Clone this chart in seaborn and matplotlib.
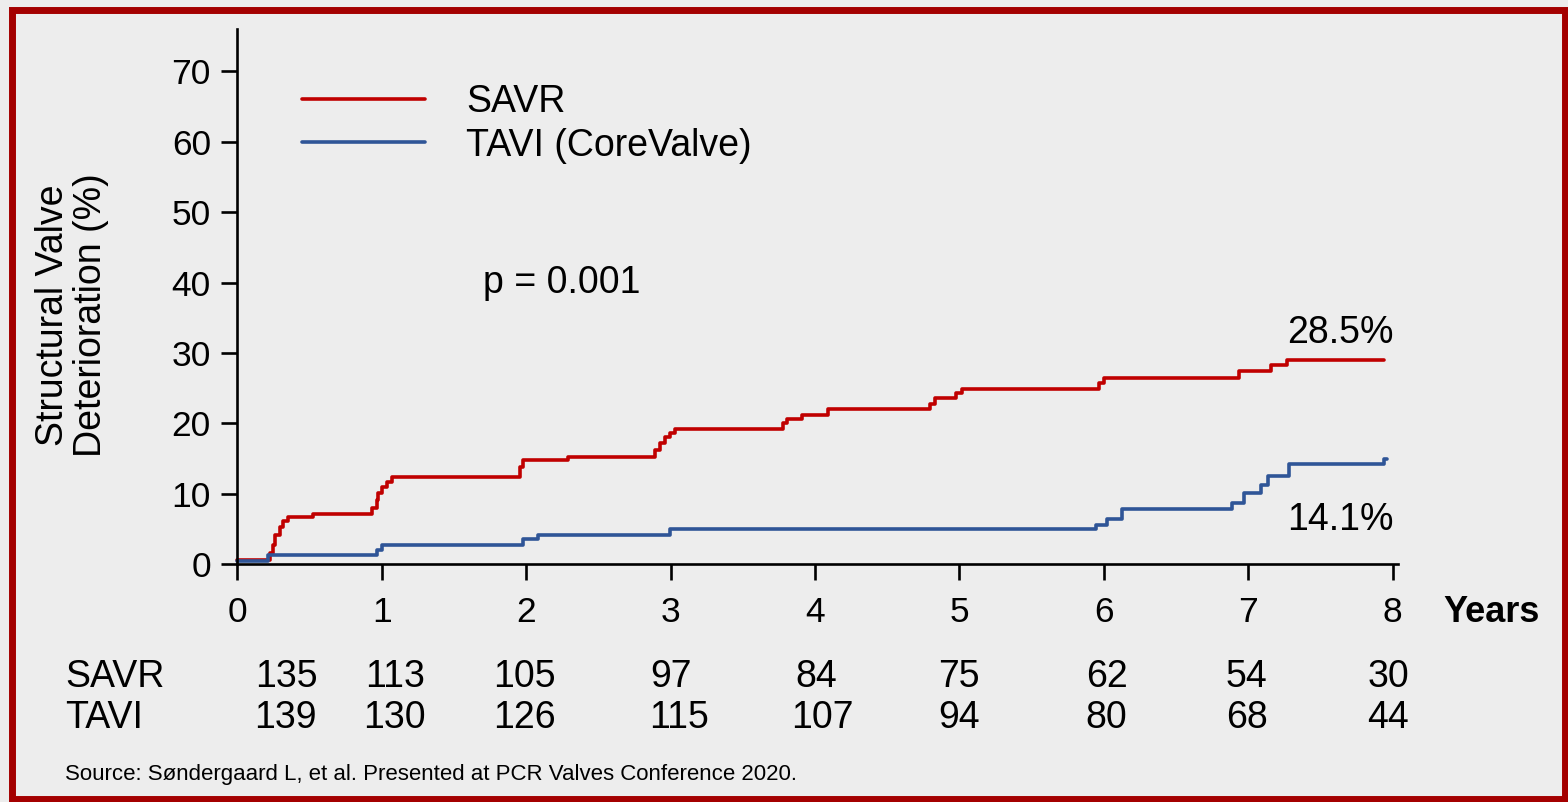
import numpy as np
import pandas as pd
import matplotlib
matplotlib.use("Agg")
import matplotlib.pyplot as plt
import seaborn as sns
from matplotlib.transforms import blended_transform_factory
from matplotlib.patches import Rectangle

# ---------------- data ----------------
savr_t = [0, 0.226, 0.245, 0.261, 0.296, 0.319, 0.353, 0.526, 0.931, 0.965, 0.977,
          1.0, 1.035, 1.069, 1.958, 1.981, 2.292, 2.893, 2.927, 2.962, 2.997, 3.031,
          3.78, 3.81, 3.91, 4.09, 4.80, 4.83, 4.98, 5.02, 5.97, 6.00, 6.94, 7.16,
          7.27, 7.94]
savr_v = [0.6, 1.6, 2.7, 4.2, 5.3, 6.1, 6.7, 7.2, 8.0, 9.1, 10.1,
          11.0, 11.7, 12.4, 13.8, 14.8, 15.3, 16.2, 17.2, 18.1, 18.6, 19.2,
          20.0, 20.6, 21.2, 22.0, 22.8, 23.6, 24.3, 24.9, 25.8, 26.4, 27.4, 28.3,
          29.0, 29.0]
tavi_t = [0, 0.215, 0.965, 1.0, 1.98, 2.085, 2.997, 5.95, 6.02, 6.125, 6.89,
          6.97, 7.09, 7.14, 7.28, 7.94, 7.96]
tavi_v = [0.5, 1.3, 2.0, 2.8, 3.6, 4.2, 5.0, 5.6, 6.4, 7.8, 8.7,
          10.1, 11.3, 12.5, 14.2, 14.9, 14.9]

series_names = ["SAVR", "TAVI (CoreValve)"]
series_colors = ["#C00000", "#2F5597"]
final_labels = ["28.5%", "14.1%"]
p_text = "p = 0.001"

year_ticks = [0, 1, 2, 3, 4, 5, 6, 7, 8]
y_ticks = [0, 10, 20, 30, 40, 50, 60, 70]
x_label = "Years"
y_label = "Structural Valve\nDeterioration (%)"

risk_rows = ["SAVR", "TAVI"]
savr_at_risk = [135, 113, 105, 97, 84, 75, 62, 54, 30]
tavi_at_risk = [139, 130, 126, 115, 107, 94, 80, 68, 44]
source_text = "Source: Søndergaard L, et al. Presented at PCR Valves Conference 2020."

# layout helpers (positions, not data)
savr_risk_x = [0.34, 1.09, 1.99, 3.0, 4.01, 5.0, 6.02, 6.99, 7.97]
tavi_risk_x = [0.33, 1.09, 1.99, 3.06, 4.05, 5.0, 6.02, 6.99, 7.97]

BG = "#EDEDED"
W, H = 1568, 802

sns.set_theme(style="ticks")
plt.rcParams['font.family'] = ['Liberation Sans', 'DejaVu Sans']
plt.rcParams['text.color'] = 'black'
plt.rcParams['axes.labelcolor'] = 'black'
plt.rcParams['xtick.color'] = 'black'
plt.rcParams['ytick.color'] = 'black'

fig = plt.figure(figsize=(W / 100, H / 100), dpi=100, facecolor=BG)
ax_left, ax_bottom_px, ax_top_px = 237.3, 564.3, 29.0
ax_w_px = 8.04 * 144.4
ax = fig.add_axes([ax_left / W, (H - ax_bottom_px) / H, ax_w_px / W,
                   (ax_bottom_px - ax_top_px) / H])
ax.set_facecolor('none')

df = pd.concat([
    pd.DataFrame({"t": savr_t, "v": savr_v, "arm": series_names[0]}),
    pd.DataFrame({"t": tavi_t, "v": tavi_v, "arm": series_names[1]}),
], ignore_index=True)

sns.lineplot(data=df, x="t", y="v", hue="arm",
             palette=dict(zip(series_names, series_colors)),
             drawstyle="steps-post", estimator=None, sort=False,
             linewidth=2.6, legend=False, ax=ax)
for ln in ax.lines:
    ln.set_clip_on(False)

ax.set_xlim(0, 8.04)
ax.set_ylim(0, 76)
ax.set_xticks(year_ticks)
ax.set_yticks(y_ticks)
ax.set_xlabel("")
ax.set_ylabel("")
ax.tick_params(axis='both', direction='out', length=11.5, width=1.9,
               labelsize=25.5, colors='black')
ax.tick_params(axis='x', pad=11.5)
ax.tick_params(axis='y', pad=7.5)
for s in ["top", "right"]:
    ax.spines[s].set_visible(False)
for s in ["left", "bottom"]:
    ax.spines[s].set_linewidth(1.9)
    ax.spines[s].set_color('black')

# legend
leg = ax.legend(handles=ax.lines[:2], labels=series_names, loc="upper left",
                bbox_to_anchor=(302 / W, 1 - 84 / H), bbox_transform=fig.transFigure,
                frameon=False, fontsize=27, handlelength=3.28, handletextpad=1.1,
                labelspacing=0.2, borderpad=0, borderaxespad=0)

# annotations
ax.text(1.70, 38.5, p_text, fontsize=27, va="baseline", ha="left")
ax.text(8.01, 31.4, final_labels[0], fontsize=27, va="baseline", ha="right")
ax.text(8.01, 4.87, final_labels[1], fontsize=27, va="baseline", ha="right")

# axis titles
fig.text(1443 / W, 1 - 622 / H, x_label, fontsize=26, fontweight="bold",
         va="baseline", ha="left")
fig.text(72 / W, 1 - 315 / H, y_label, fontsize=27, rotation=90,
         ha="center", va="center", multialignment="center", linespacing=1.1)

# number at risk table
tr = blended_transform_factory(ax.transData, fig.transFigure)
row_y = [1 - 687 / H, 1 - 728 / H]
for name, yy in zip(risk_rows, row_y):
    fig.text(65 / W, yy, name, fontsize=27, va="baseline", ha="left")
for xx, n in zip(savr_risk_x, savr_at_risk):
    ax.text(xx, row_y[0], str(n), transform=tr, fontsize=27, va="baseline",
            ha="center", clip_on=False)
for xx, n in zip(tavi_risk_x, tavi_at_risk):
    ax.text(xx, row_y[1], str(n), transform=tr, fontsize=27, va="baseline",
            ha="center", clip_on=False)

fig.text(65 / W, 1 - 780 / H, source_text, fontsize=16, va="baseline", ha="left")

# dark red frame
fig.add_artist(Rectangle((11.5 / W, 3.5 / H), (1564.5 - 11.5) / W, (798.5 - 9.5) / H,
                         transform=fig.transFigure, fill=False,
                         edgecolor="#A40000", linewidth=5.0))

fig.savefig("out.png", dpi=100, facecolor=fig.get_facecolor())
